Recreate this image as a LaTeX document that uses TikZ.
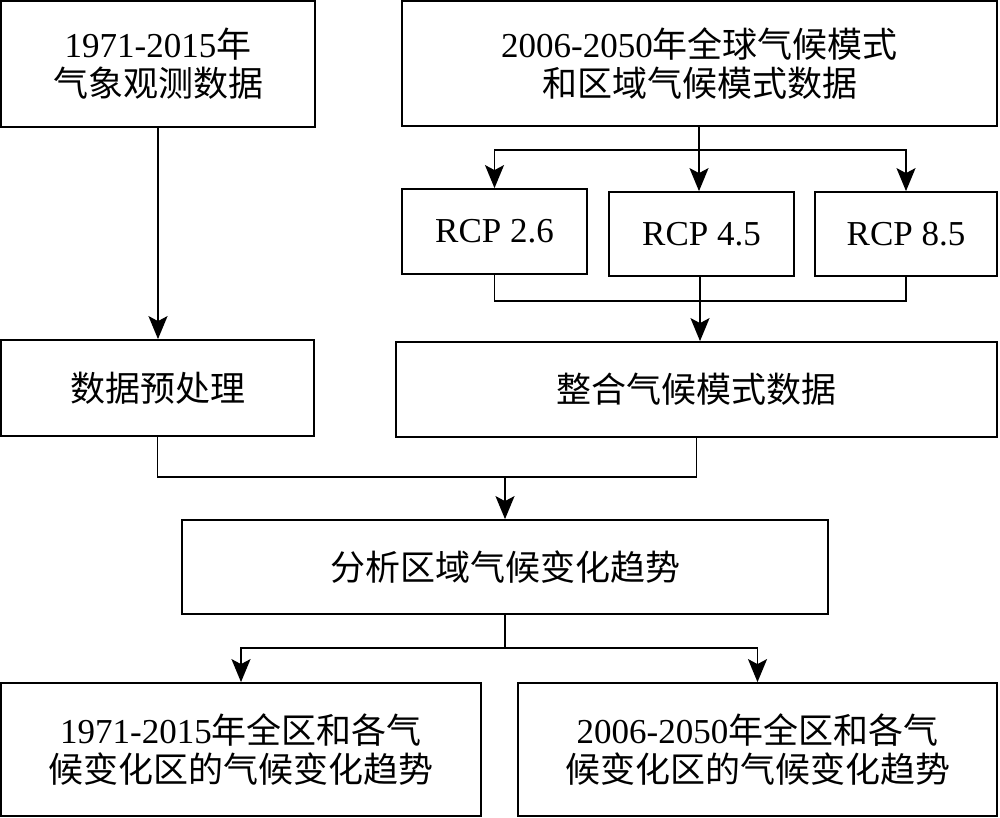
\documentclass[tikz,border=0pt]{standalone}
\usepackage{fontspec}
\setmainfont{Liberation Serif}
\newfontfamily\cjk{Noto Sans CJK SC}
\usetikzlibrary{arrows.meta,calc}
\tikzset{
  box/.style={draw, line width=1.8pt, inner sep=0pt, align=center,
    font=\fontsize{35pt}{39pt}\selectfont},
  ln/.style={line width=1.8pt},
  arr/.style={line width=1.8pt, arrows={-Stealth[length=23pt,width=19pt,inset=5pt]}}}
\begin{document}
\begin{tikzpicture}[x=1pt,y=1pt]
\useasboundingbox[fill=white] (0,0) rectangle (1000,-817);
% boxes
\node[box, minimum width=314pt, minimum height=126pt] (obs) at (158,-64)
  {1971-2015{\cjk 年}\\{\cjk 气象观测数据}};
\node[box, minimum width=595pt, minimum height=125pt] (gcm) at (699.5,-63.5)
  {2006-2050{\cjk 年全球气候模式}\\{\cjk 和区域气候模式数据}};
\node[box, minimum width=185pt, minimum height=85pt] (r26) at (494.5,-231.5) {RCP 2.6};
\node[box, minimum width=185pt, minimum height=84pt] (r45) at (701.5,-234) {RCP 4.5};
\node[box, minimum width=182pt, minimum height=84pt] (r85) at (906,-234) {RCP 8.5};
\node[box, minimum width=313pt, minimum height=96pt] (pre) at (157.5,-388) {{\cjk 数据预处理}};
\node[box, minimum width=601pt, minimum height=95pt] (int) at (696.5,-389.5) {{\cjk 整合气候模式数据}};
\node[box, minimum width=646pt, minimum height=94pt] (ana) at (505,-567) {{\cjk 分析区域气候变化趋势}};
\node[box, minimum width=480pt, minimum height=133pt] (bl) at (241,-749.5)
  {1971-2015{\cjk 年全区和各气}\\{\cjk 候变化区的气候变化趋势}};
\node[box, minimum width=479pt, minimum height=133pt] (br) at (757.5,-749.5)
  {2006-2050{\cjk 年全区和各气}\\{\cjk 候变化区的气候变化趋势}};
% connectors
\draw[arr] (obs.south) -- (obs.south |- pre.north);
\coordinate (s1) at (699,-150);
\draw[ln] (s1 |- gcm.south) -- (s1);
\draw[arr] (s1) -| (r26.north);
\draw[arr] (s1) -| (r85.north);
\draw[arr] (s1 |- gcm.south) -- (s1 |- r45.north);
\coordinate (m1) at (700,-301);
\draw[ln] (r26.south) |- (m1) -| (r85.south);
\draw[ln] (m1 |- r45.south) -- (m1);
\draw[arr] (m1) -- (m1 |- int.north);
\coordinate (m2) at (505,-477);
\draw[ln] (pre.south) |- (m2) -| (int.south);
\draw[arr] (m2) -- (ana.north);
\coordinate (m3) at (505,-648);
\draw[ln] (ana.south) -- (m3);
\draw[arr] (m3) -| (bl.north);
\draw[arr] (m3) -| (br.north);
\end{tikzpicture}
\end{document}
